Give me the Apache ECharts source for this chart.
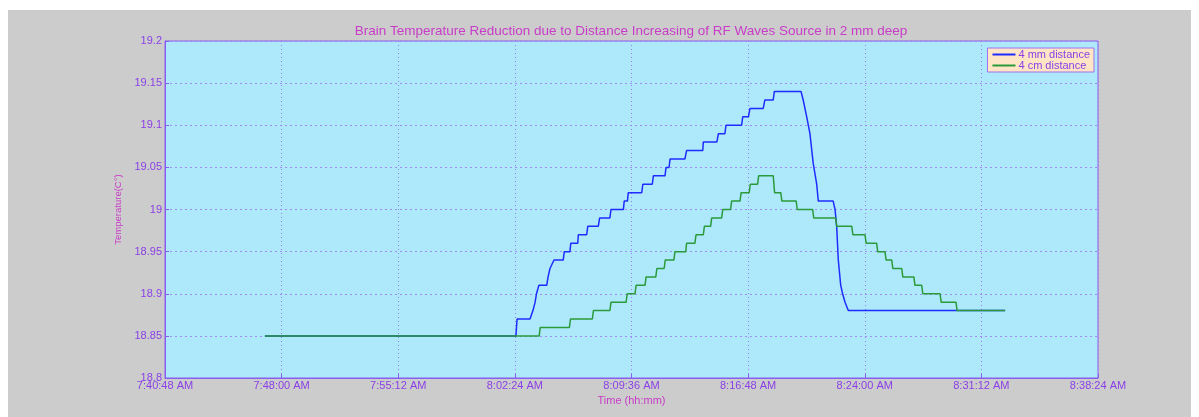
<!DOCTYPE html>
<html>
<head>
<meta charset="utf-8">
<script src="https://cdn.jsdelivr.net/npm/echarts@6/dist/echarts.min.js"></script>
<style>
  body { margin: 0; background: #fff; }
  #frame { position: absolute; left: 8px; top: 10px; width: 1183px; height: 407px; background: #cccccc; }
  #tempChart { position: absolute; left: 0; top: 0; width: 1199px; height: 417px; }
</style>
</head>
<body>
<div id="frame"></div>
<div id="tempChart"></div>
<script>
// x axis ticks (clock time), 7:12 apart
const tickStart = '7:40:48';
const tickEnd = '8:38:24';
const tickStep = 432; // seconds
const yTicks = [18.8, 18.85, 18.9, 18.95, 19, 19.05, 19.1, 19.15, 19.2];

// 4 mm distance (blue)
const blueTime = ['7:46:58','8:02:28','8:02:32','8:03:20','8:03:31','8:03:39','8:03:44','8:03:53','8:04:22','8:04:27',
  '8:04:34','8:04:49','8:05:23','8:05:27','8:05:48','8:05:51','8:06:17','8:06:19','8:06:50','8:06:54',
  '8:07:33','8:07:38','8:08:16','8:08:20','8:09:06','8:09:09','8:09:21','8:09:24','8:10:14','8:10:18',
  '8:10:53','8:10:57','8:11:40','8:11:44','8:11:55','8:11:59','8:12:54','8:13:00','8:14:00','8:14:02',
  '8:14:52','8:14:58','8:15:22','8:15:26','8:16:24','8:16:28','8:16:49','8:16:55','8:17:44','8:17:50',
  '8:18:21','8:18:25','8:20:04','8:20:12','8:20:25','8:20:37','8:20:49','8:21:02','8:21:08','8:22:03',
  '8:22:10','8:22:16','8:22:22','8:22:31','8:22:38','8:22:47','8:22:59','8:32:40'];
const blueTemp = [18.85,18.85,18.87,18.87,18.88,18.89,18.90,18.91,18.91,18.92,
  18.93,18.94,18.94,18.95,18.95,18.96,18.96,18.97,18.97,18.98,
  18.98,18.99,18.99,19.00,19.00,19.01,19.01,19.02,19.02,19.03,
  19.03,19.04,19.04,19.05,19.05,19.06,19.06,19.07,19.07,19.08,
  19.08,19.09,19.09,19.10,19.10,19.11,19.11,19.12,19.12,19.13,
  19.13,19.14,19.14,19.13,19.11,19.09,19.055,19.03,19.01,19.01,
  19.00,18.98,18.94,18.91,18.90,18.89,18.88,18.88];

// 4 cm distance (green)
const greenTime = ['7:46:58','8:03:54','8:03:58','8:05:46','8:05:50','8:07:11','8:07:15','8:08:16','8:08:20','8:09:16',
  '8:09:20','8:09:49','8:09:53','8:10:26','8:10:30','8:11:06','8:11:10','8:11:37','8:11:41','8:12:13',
  '8:12:17','8:12:57','8:13:00','8:13:31','8:13:35','8:14:02','8:14:06','8:14:29','8:14:33','8:15:10',
  '8:15:14','8:15:43','8:15:47','8:16:18','8:16:22','8:16:52','8:16:56','8:17:23','8:17:27','8:18:21',
  '8:18:26','8:18:49','8:18:53','8:19:46','8:19:50','8:20:47','8:20:51','8:22:12','8:22:16','8:23:12',
  '8:23:16','8:24:01','8:24:05','8:24:44','8:24:48','8:25:15','8:25:19','8:25:40','8:25:44','8:26:17',
  '8:26:21','8:27:02','8:27:06','8:27:31','8:27:35','8:28:39','8:28:43','8:29:38','8:29:42','8:32:40'];
const greenTemp = [18.85,18.85,18.86,18.86,18.87,18.87,18.88,18.88,18.89,18.89,
  18.90,18.90,18.91,18.91,18.92,18.92,18.93,18.93,18.94,18.94,
  18.95,18.95,18.96,18.96,18.97,18.97,18.98,18.98,18.99,18.99,
  19.00,19.00,19.01,19.01,19.02,19.02,19.03,19.03,19.04,19.04,
  19.02,19.02,19.01,19.01,19.00,19.00,18.99,18.99,18.98,18.98,
  18.97,18.97,18.96,18.96,18.95,18.95,18.94,18.94,18.93,18.93,
  18.92,18.92,18.91,18.91,18.90,18.90,18.89,18.89,18.88,18.88];

function toSec(s) {
  const p = s.split(':').map(Number);
  return p[0] * 3600 + p[1] * 60 + p[2];
}
function fmtClock(v) {
  let h = Math.floor(v / 3600), m = Math.floor((v % 3600) / 60), s = Math.round(v % 60);
  const ap = h >= 12 ? 'PM' : 'AM';
  h = h % 12 || 12;
  return h + ':' + String(m).padStart(2, '0') + ':' + String(s).padStart(2, '0') + ' ' + ap;
}
function pairs(ts, vs) {
  return ts.map((t, i) => [toSec(t), vs[i]]);
}

const violet = '#8a3fe6';
const magenta = '#c83cc8';
const font = 'Liberation Sans, Arial, sans-serif';

const tempChart = echarts.init(document.getElementById('tempChart'));
tempChart.setOption({
  animation: false,
  backgroundColor: 'transparent',
  title: {
    text: 'Brain Temperature Reduction due to Distance Increasing of RF Waves Source in 2 mm deep',
    left: 631, top: 24, textAlign: 'center', padding: 0,
    textStyle: { color: magenta, fontSize: 13.5, fontWeight: 'normal', fontFamily: font }
  },
  legend: {
    orient: 'vertical',
    right: 105, top: 48,
    backgroundColor: '#fde5c6',
    borderColor: '#a070f0', borderWidth: 1,
    padding: [1, 4, 1, 5],
    itemGap: 0, itemWidth: 23, itemHeight: 2,
    icon: 'rect',
    textStyle: { color: violet, fontSize: 11, fontFamily: font, lineHeight: 11, padding: [0, 0, 0, -2] },
    data: ['4 mm distance', '4 cm distance']
  },
  grid: {
    left: 165, top: 41, right: 101, bottom: 39,
    show: true, backgroundColor: '#ade9fb', borderColor: '#8a5cf0', borderWidth: 1
  },
  xAxis: {
    type: 'value',
    min: toSec(tickStart), max: toSec(tickEnd), interval: tickStep,
    name: 'Time (hh:mm)', nameLocation: 'middle', nameGap: 4,
    nameTextStyle: { color: magenta, fontSize: 11, fontFamily: font },
    axisLine: { lineStyle: { color: '#8a5cf0' } },
    axisTick: { inside: true, length: 4, lineStyle: { color: '#8a5cf0' } },
    axisLabel: { color: violet, fontSize: 11, fontFamily: font, margin: 2, formatter: fmtClock },
    splitLine: { show: true, lineStyle: { color: '#9a7cf0', type: [1, 3], width: 1 } }
  },
  yAxis: {
    type: 'value',
    min: yTicks[0], max: yTicks[yTicks.length - 1], interval: 0.05,
    name: 'Temperature(C°)', nameLocation: 'middle', nameGap: 33,
    nameTextStyle: { color: magenta, fontSize: 9.5, fontFamily: font },
    axisLine: { show: true, lineStyle: { color: '#8a5cf0' } },
    axisTick: { show: true, inside: true, length: 4, lineStyle: { color: '#8a5cf0' } },
    axisLabel: { color: violet, fontSize: 11, fontFamily: font, margin: 3,
      formatter: v => String(+v.toFixed(2)) },
    splitLine: { show: true, lineStyle: { color: '#a08cf2', type: [2, 3], width: 1 } }
  },
  series: [
    {
      name: '4 mm distance', type: 'line', showSymbol: false,
      color: '#1f2bff',
      lineStyle: { width: 1.5, color: '#1f2bff' },
      data: pairs(blueTime, blueTemp)
    },
    {
      name: '4 cm distance', type: 'line', showSymbol: false,
      color: '#2a9a3a',
      lineStyle: { width: 1.5, color: '#2a9a3a' },
      data: pairs(greenTime, greenTemp)
    }
  ]
});
window.addEventListener('resize', function () {
  tempChart.resize();
});
</script>
</body>
</html>
